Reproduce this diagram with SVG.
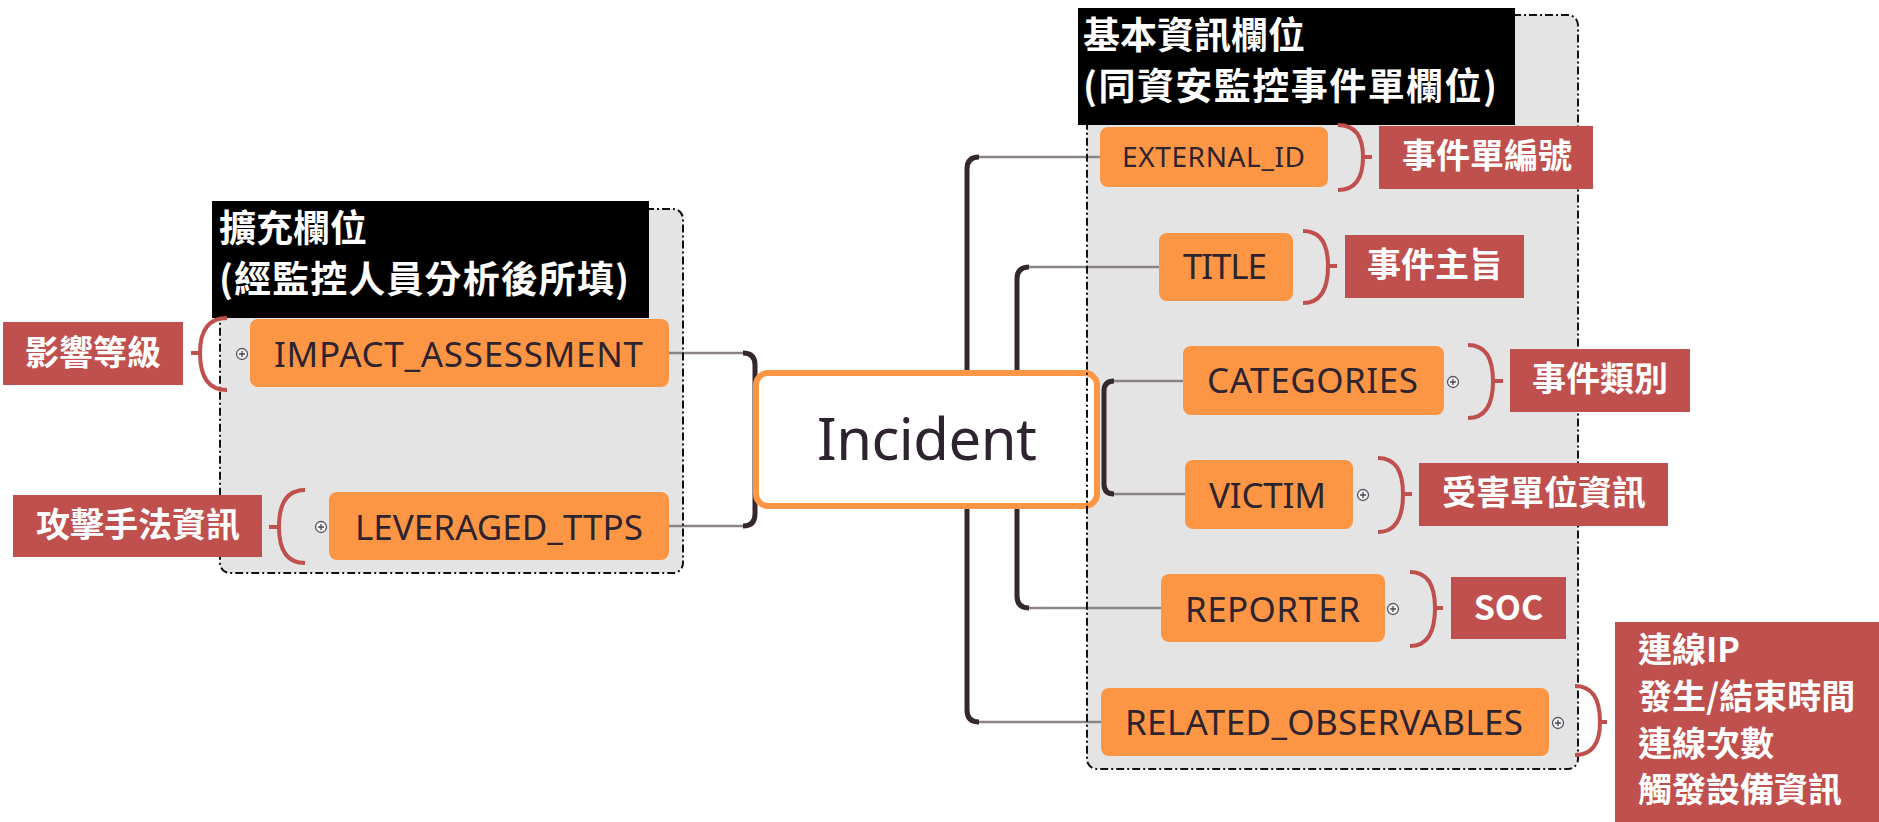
<svg xmlns="http://www.w3.org/2000/svg" width="1879" height="822" viewBox="0 0 1879 822">
<style>
.bg{fill:#e4e4e4;stroke:none}
.bd{fill:none;stroke:#111;stroke-width:2;stroke-dasharray:8 3 2 3}
.hdr{fill:#000}
.ht{font-family:"Noto Sans CJK TC","Noto Sans",sans-serif;font-size:37px;font-weight:bold;fill:#fff}
.nd{fill:#fd9644}
.nt{font-family:"Noto Sans","Liberation Sans",sans-serif;font-size:35px;fill:#2e2430;text-anchor:middle}
.lb{fill:#c0504d}
.lt{font-family:"Noto Sans CJK TC","Noto Sans",sans-serif;font-size:34px;font-weight:bold;fill:#fff}
.br{fill:none;stroke:#c0504d;stroke-width:4}
.gl{fill:none;stroke:#8a8489;stroke-width:2.5}
.dl{fill:none;stroke:#34272f;stroke-width:5}
.pl{fill:#f4f4f4;stroke:#5a5560;stroke-width:1.3}
.pp{stroke:#4a4550;stroke-width:1.3}
</style>
<defs>
<g id="plus"><circle class="pl" cx="0" cy="0" r="5.5"/><path class="pp" d="M-3 0H3M0 -3V3"/></g>
</defs>

<g id="group-extended-bg"><rect class="bg" x="220" y="209" width="463" height="364" rx="10"/></g>
<g id="group-basic-bg"><rect class="bg" x="1087" y="15" width="491" height="754" rx="10"/></g>

<g id="connectors">
<path class="gl" d="M669 353H745M669 526H745"/>
<path class="dl" d="M743 353Q755 353 755 365V514Q755 526 743 526"/>
<path class="gl" d="M977 157H1100M977 722H1101"/>
<path class="dl" d="M979 157Q967 157 967 169V710Q967 722 979 722"/>
<path class="gl" d="M1027 267H1159M1027 608H1161"/>
<path class="dl" d="M1029 267Q1017 267 1017 279V596Q1017 608 1029 608"/>
<path class="gl" d="M1112 381H1183M1112 494H1185"/>
<path class="dl" d="M1114 381Q1104 381 1104 391V484Q1104 494 1114 494"/>
</g>

<g id="incident">
<rect x="756" y="373" width="341" height="133" rx="12" fill="#fff" stroke="#fd9644" stroke-width="6"/>
<text class="nt" x="927" y="460" style="font-size:58px" textLength="220">Incident</text>
</g>

<g id="group-borders">
<rect class="bd" x="220" y="209" width="463" height="364" rx="10"/>
<rect class="bd" x="1087" y="15" width="491" height="754" rx="10"/>
</g>

<g id="header-extended">
<rect class="hdr" x="212" y="201" width="437" height="117"/>
<text class="ht" x="219" y="242">擴充欄位</text>
<text class="ht" x="219" y="293" textLength="410">(經監控人員分析後所填)</text>
</g>
<g id="header-basic">
<rect class="hdr" x="1078" y="8" width="437" height="117"/>
<text class="ht" x="1083" y="49">基本資訊欄位</text>
<text class="ht" x="1083" y="100" textLength="414">(同資安監控事件單欄位)</text>
</g>

<g id="node-impact">
<rect class="nd" x="250" y="319" width="419" height="68" rx="8"/>
<text class="nt" x="458.5" y="367" textLength="369">IMPACT_ASSESSMENT</text>
<use href="#plus" x="242" y="354"/>
</g>
<g id="node-leveraged">
<rect class="nd" x="329" y="492" width="340" height="68" rx="8"/>
<text class="nt" x="499" y="540" textLength="288">LEVERAGED_TTPS</text>
<use href="#plus" x="321" y="527"/>
</g>
<g id="node-external">
<rect class="nd" x="1100" y="127" width="228" height="60" rx="8"/>
<text class="nt" x="1213.5" y="167" style="font-size:28px" textLength="183">EXTERNAL_ID</text>
</g>
<g id="node-title">
<rect class="nd" x="1159" y="233" width="134" height="68" rx="8"/>
<text class="nt" x="1225" y="279" textLength="84">TITLE</text>
</g>
<g id="node-categories">
<rect class="nd" x="1183" y="346" width="261" height="69" rx="8"/>
<text class="nt" x="1312.5" y="393" textLength="211">CATEGORIES</text>
<use href="#plus" x="1453" y="382"/>
</g>
<g id="node-victim">
<rect class="nd" x="1185" y="460" width="168" height="69" rx="8"/>
<text class="nt" x="1267.5" y="508" textLength="117">VICTIM</text>
<use href="#plus" x="1363" y="495"/>
</g>
<g id="node-reporter">
<rect class="nd" x="1161" y="574" width="224" height="68" rx="8"/>
<text class="nt" x="1272.5" y="622" textLength="175">REPORTER</text>
<use href="#plus" x="1393" y="609"/>
</g>
<g id="node-related">
<rect class="nd" x="1101" y="688" width="448" height="68" rx="8"/>
<text class="nt" x="1324" y="735" textLength="398">RELATED_OBSERVABLES</text>
<use href="#plus" x="1558" y="723"/>
</g>

<g id="label-impact">
<rect class="lb" x="3" y="322" width="180" height="63"/>
<text class="lt" x="25" y="365">影響等級</text>
<path class="br" d="M227 318Q200 318 200 353Q200 390 227 390M200 353H191"/>
</g>
<g id="label-leveraged">
<rect class="lb" x="13" y="495" width="249" height="62"/>
<text class="lt" x="36" y="537">攻擊手法資訊</text>
<path class="br" d="M305 490Q279 490 279 527Q279 563 305 563M279 527H269"/>
</g>
<g id="label-external">
<rect class="lb" x="1379" y="126" width="214" height="63"/>
<text class="lt" x="1402" y="168">事件單編號</text>
<path class="br" d="M1338 125Q1363 125 1363 157Q1363 190 1338 190M1363 157H1372"/>
</g>
<g id="label-title">
<rect class="lb" x="1345" y="235" width="179" height="63"/>
<text class="lt" x="1367" y="277">事件主旨</text>
<path class="br" d="M1303 231Q1328 231 1328 266Q1328 303 1303 303M1328 266H1337"/>
</g>
<g id="label-categories">
<rect class="lb" x="1510" y="349" width="180" height="63"/>
<text class="lt" x="1532" y="391">事件類別</text>
<path class="br" d="M1468 345Q1493 345 1493 381Q1493 418 1468 418M1493 381H1503"/>
</g>
<g id="label-victim">
<rect class="lb" x="1419" y="463" width="249" height="63"/>
<text class="lt" x="1442" y="505">受害單位資訊</text>
<path class="br" d="M1378 458Q1403 458 1403 494Q1403 532 1378 532M1403 494H1412"/>
</g>
<g id="label-reporter">
<rect class="lb" x="1451" y="577" width="115" height="62"/>
<text class="lt" x="1508.5" y="620" text-anchor="middle">SOC</text>
<path class="br" d="M1410 572Q1435 572 1435 608Q1435 646 1410 646M1435 608H1443"/>
</g>
<g id="label-related">
<rect class="lb" x="1615" y="622" width="264" height="200"/>
<text class="lt" x="1638" y="662">連線IP</text>
<text class="lt" x="1638" y="709">發生/結束時間</text>
<text class="lt" x="1638" y="756">連線次數</text>
<text class="lt" x="1638" y="802">觸發設備資訊</text>
<path class="br" d="M1575 686Q1600 686 1600 722Q1600 755 1575 755M1600 722H1607"/>
</g>
</svg>
